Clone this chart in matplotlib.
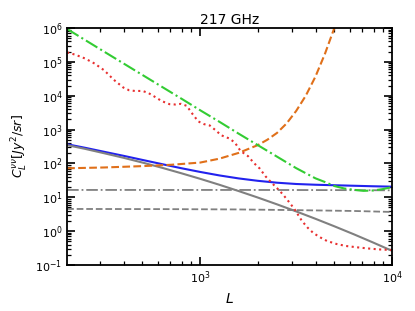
import numpy as np
import matplotlib
matplotlib.use("Agg")
import matplotlib.pyplot as plt
from matplotlib.ticker import LogLocator, NullFormatter

# data, given as (log10 L, log10 C_L)
# total (blue)
tot_logL = [2.307, 2.4, 2.5, 2.6, 2.7, 2.8, 2.9, 3.0, 3.1, 3.2, 3.3, 3.4, 3.5, 3.6, 3.7, 3.8, 3.9, 4.0]
tot_logC = [2.566, 2.462, 2.343, 2.225, 2.102, 1.98, 1.86, 1.748, 1.645, 1.557, 1.486, 1.43,
            1.392, 1.37, 1.355, 1.34, 1.325, 1.313]

# clustered part (grey solid)
clus_logL = [2.307, 2.4, 2.5, 2.6, 2.7, 2.8, 2.9, 3.0, 3.1, 3.2, 3.3, 3.4, 3.5, 3.6, 3.7, 3.8, 3.9, 4.0]
clus_logC = [2.54, 2.43, 2.30, 2.167, 2.024, 1.873, 1.712, 1.545, 1.369, 1.184, 0.992, 0.791,
             0.582, 0.365, 0.14, -0.093, -0.335, -0.584]

# shot noise levels (grey dash-dot, grey dashed)
shot_logL = [2.307, 2.8, 3.2, 3.5, 3.8, 4.0]
shot1_logC = [1.216, 1.216, 1.216, 1.214, 1.21, 1.205]
shot2_logC = [0.655, 0.65, 0.64, 0.62, 0.595, 0.566]

# orange dashed
noise_logL = [2.307, 2.5, 2.7, 2.85, 3.0, 3.1, 3.2, 3.3, 3.35, 3.4, 3.45, 3.5, 3.55, 3.6, 3.65, 3.70]
noise_logC = [1.856, 1.88, 1.92, 1.96, 2.025, 2.14, 2.31, 2.54, 2.70, 2.90, 3.18, 3.55, 4.0,
              4.56, 5.24, 6.02]

# green dash-dot
gr_logL = [2.307, 2.5, 2.7, 2.9, 3.0, 3.1, 3.2, 3.3, 3.4, 3.5, 3.55, 3.6, 3.65, 3.7, 3.75,
           3.8, 3.85, 3.9, 3.95, 4.0]
gr_logC = [5.97, 5.30, 4.61, 3.92, 3.57, 3.23, 2.88, 2.54, 2.20, 1.86, 1.71, 1.56, 1.45, 1.33,
           1.26, 1.22, 1.19, 1.20, 1.24, 1.30]

# red dotted
red_logL = [2.307, 2.35, 2.40, 2.45, 2.50, 2.55, 2.60, 2.63, 2.66, 2.70, 2.73, 2.76, 2.80,
            2.84, 2.87, 2.90, 2.93, 2.96, 2.99, 3.02, 3.05, 3.08, 3.11, 3.15, 3.18, 3.21,
            3.25, 3.28, 3.31, 3.34, 3.37, 3.40, 3.43, 3.46, 3.49, 3.53, 3.56, 3.59, 3.63,
            3.66, 3.71, 3.76, 3.82, 3.87, 3.93, 4.0]
red_logC = [5.28, 5.21, 5.10, 4.95, 4.75, 4.47, 4.24, 4.16, 4.14, 4.14, 4.08, 3.98, 3.84,
            3.75, 3.74, 3.76, 3.70, 3.46, 3.24, 3.16, 3.12, 2.98, 2.83, 2.74, 2.62, 2.37,
            2.21, 2.01, 1.85, 1.62, 1.44, 1.27, 1.09, 0.88, 0.66, 0.30, 0.10, -0.06, -0.20,
            -0.29, -0.38, -0.44, -0.48, -0.51, -0.54, -0.56]


def p(a):
    return 10 ** np.array(a)


fig, ax = plt.subplots(figsize=(4.15, 3.11), dpi=100)
fig.subplots_adjust(left=0.162, right=0.945, top=0.91, bottom=0.148)

ax.plot(p(tot_logL), p(tot_logC), color="#2222ee", lw=1.5)
ax.plot(p(clus_logL), p(clus_logC), color="grey", lw=1.5)
ax.plot(p(shot_logL), p(shot1_logC), color="grey", lw=1.3, ls="-.")
ax.plot(p(shot_logL), p(shot2_logC), color="grey", lw=1.3, ls="--")
ax.plot(p(noise_logL), p(noise_logC), color="#e0701a", lw=1.5, ls="--")
ax.plot(p(gr_logL), p(gr_logC), color="#33cc33", lw=1.5, ls="-.")
ax.plot(p(red_logL), p(red_logC), color="#e83030", lw=1.5, ls=":")

ax.set_xscale("log")
ax.set_yscale("log")
ax.set_xlim(203, 1e4)
ax.set_ylim(1e-1, 1e6)
ax.yaxis.set_major_locator(LogLocator(base=10, numticks=20))
ax.yaxis.set_minor_locator(LogLocator(base=10, subs=np.arange(2, 10), numticks=100))
ax.yaxis.set_minor_formatter(NullFormatter())
for s in ax.spines.values():
    s.set_linewidth(1.3)
ax.tick_params(which="both", direction="in", top=True, right=True, labelsize=8)
ax.tick_params(which="major", length=6, width=1.2)
ax.tick_params(which="minor", length=3, width=0.9)
ax.set_xlabel("$L$", fontsize=10)
ax.set_ylabel(r"$C_L^{\nu\nu}[Jy^2/sr]$", fontsize=9)
ax.set_title("217 GHz", fontsize=10, pad=3)

plt.savefig("out.png")
